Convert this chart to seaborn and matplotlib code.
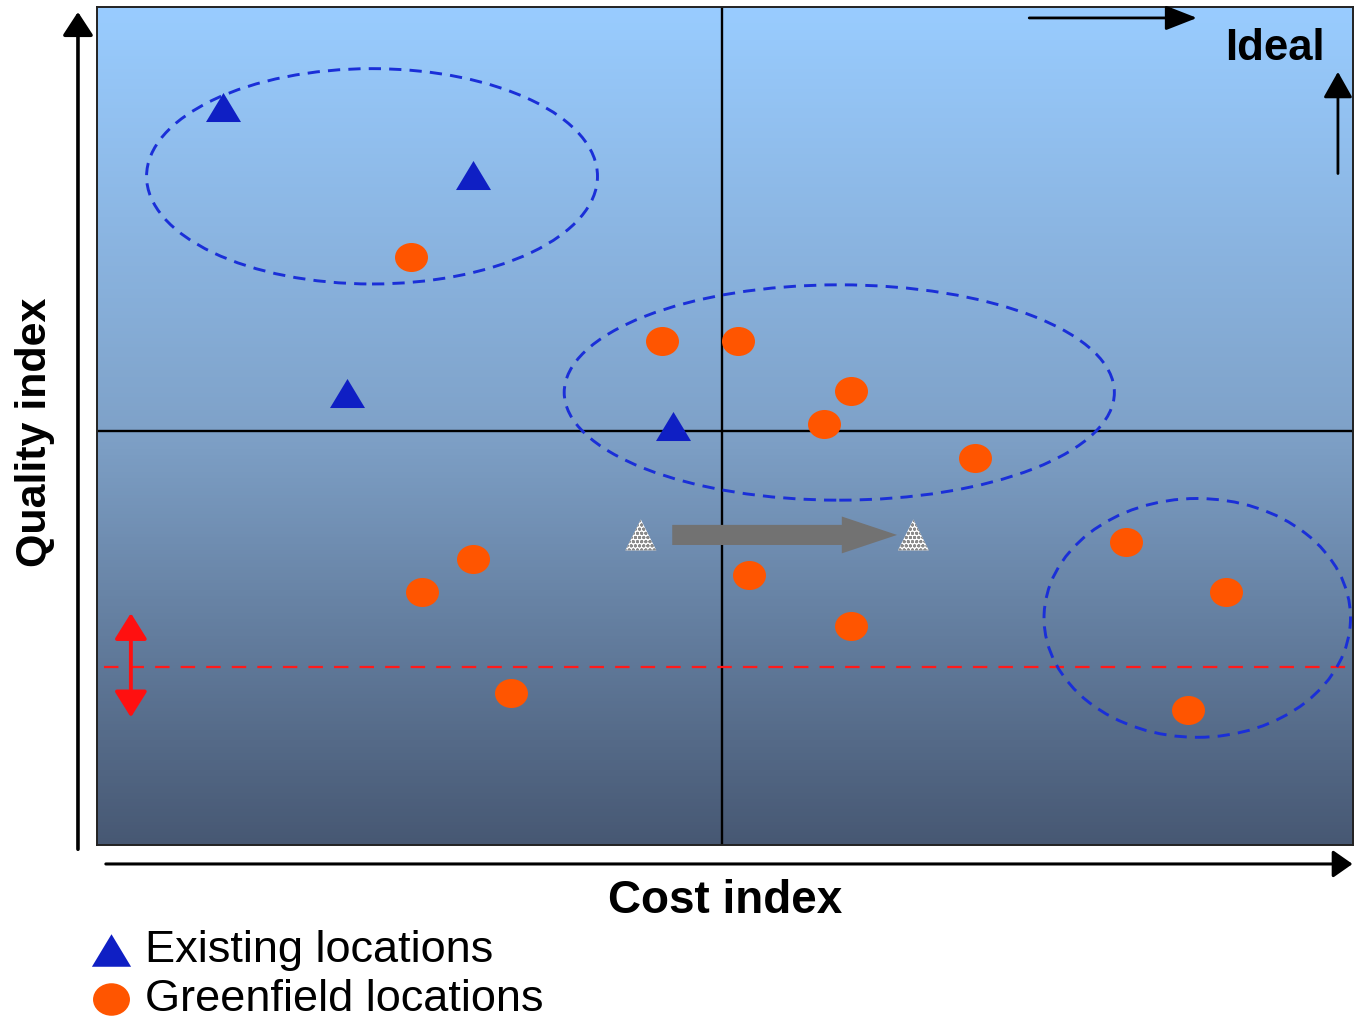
import numpy as np
import pandas as pd
import matplotlib
matplotlib.use("Agg")
import matplotlib.pyplot as plt
import seaborn as sns
from matplotlib.path import Path
from matplotlib.patches import Ellipse, FancyArrow, FancyArrowPatch
from matplotlib.colors import LinearSegmentedColormap

# ---- data -------------------------------------------------------------
existing_cost = [10.0, 29.9, 19.9, 45.9]
existing_quality = [88.1, 80.0, 53.9, 50.0]

greenfield_cost = [25.0, 45.0, 51.0, 60.0, 57.9, 69.9, 29.9, 25.9,
                   33.0, 51.9, 60.0, 81.9, 89.9, 86.9]
greenfield_quality = [70.2, 60.1, 60.1, 54.2, 50.2, 46.2, 34.1, 30.2,
                      18.1, 32.2, 26.1, 36.2, 30.2, 16.1]

# site moved from its current position to a cheaper one
relocation_cost = [43.3, 65.0]
relocation_quality = [37.0, 37.0]

series_labels = ["Existing locations", "Greenfield locations"]

# clusters: centre cost, centre quality, width, height
cluster_cost = [21.9, 59.1, 87.6]
cluster_quality = [79.8, 54.0, 27.1]
cluster_width = [35.9, 43.8, 24.4]
cluster_height = [25.7, 25.7, 28.5]

cost_split = 49.8
quality_split = 49.4
min_quality = 21.2

existing = pd.DataFrame({"cost": existing_cost, "quality": existing_quality})
greenfield = pd.DataFrame({"cost": greenfield_cost, "quality": greenfield_quality})
relocation = pd.DataFrame({"cost": relocation_cost, "quality": relocation_quality})

# ---- style --------------------------------------------------------------
sns.set_style("white")
plt.rcParams["font.family"] = ["Liberation Sans", "DejaVu Sans"]
plt.rcParams["text.color"] = "black"
plt.rcParams["hatch.linewidth"] = 1.0

fig = plt.figure(figsize=(13.56, 10.21), dpi=100)
ax = fig.add_axes([0.0715, 0.1724, 0.9263, 0.8207])
ax.set_xlim(0, 100)
ax.set_ylim(0, 100)

# vertical gradient background
grad_cmap = LinearSegmentedColormap.from_list(
    "bg", [(0.0, "#475873"), (0.5, "#7fa2c9"), (1.0, "#99ccff")])
gradient = np.linspace(0, 1, 256).reshape(-1, 1)
ax.imshow(gradient, cmap=grad_cmap, origin="lower", extent=[0, 100, 0, 100],
          aspect="auto", zorder=0)

for sp in ax.spines.values():
    sp.set_color("#222222")
    sp.set_linewidth(1.4)
ax.set_xticks([])
ax.set_yticks([])

# quadrant lines
ax.axvline(cost_split, color="black", lw=1.7, zorder=1)
ax.axhline(quality_split, color="black", lw=1.7, zorder=1)

# minimum quality threshold
ax.plot([0.6, 100], [min_quality, min_quality], color="#ff1a1a", lw=1.6,
        ls=(0, (6.5, 5)), zorder=1)
ax.add_patch(FancyArrowPatch((2.7, 28.0), (2.7, 14.9),
                             arrowstyle="<|-|>,head_length=0.8,head_width=0.5",
                             mutation_scale=20, color="#ff1010", lw=2.8,
                             zorder=2))

# clusters
for cx, cy, w, h in zip(cluster_cost, cluster_quality, cluster_width, cluster_height):
    ax.add_patch(Ellipse((cx, cy), w, h, fill=False, edgecolor="#1a2fd8",
                         lw=2.1, ls=(0, (4.2, 2.8)), zorder=2))

# relocation arrow
ax.add_patch(FancyArrow(45.8, 37.0, 63.7 - 45.8, 0, width=2.4, head_width=4.4,
                        head_length=4.4, length_includes_head=True,
                        color="#727272", lw=0, zorder=2))

# markers
tri_marker = Path([(0, 0.83), (-1, -0.83), (1, -0.83), (0, 0.83)],
                  [Path.MOVETO, Path.LINETO, Path.LINETO, Path.CLOSEPOLY])
circ = Path.unit_circle()
oval_marker = Path(circ.vertices * np.array([1.0, 0.88]), circ.codes)

sns.scatterplot(data=existing, x="cost", y="quality", ax=ax, marker=tri_marker,
                s=635, color="#0f1fc4", linewidth=0, label=series_labels[0],
                zorder=4, legend=False)
sns.scatterplot(data=greenfield, x="cost", y="quality", ax=ax, marker=oval_marker,
                s=564, color="#ff5500", linewidth=0, label=series_labels[1],
                zorder=4, legend=False)
sns.scatterplot(data=relocation, x="cost", y="quality", ax=ax, marker="^",
                s=497, facecolor="white", edgecolor="#8a8a8a", linewidth=0,
                hatch="oooo", zorder=4, legend=False)

ax.set_xlabel("")
ax.set_ylabel("")

# "Ideal" direction
ax.text(93.8, 95.0, "Ideal", fontsize=31.5, fontweight="bold", ha="center",
        va="center", zorder=5)
ax.add_patch(FancyArrowPatch((74.0, 98.7), (87.8, 98.7),
                             arrowstyle="-|>,head_length=0.97,head_width=0.38",
                             mutation_scale=20, color="black", lw=2,
                             clip_on=False, zorder=5))
ax.add_patch(FancyArrowPatch((98.8, 79.8), (98.8, 92.6),
                             arrowstyle="-|>,head_length=0.8,head_width=0.45",
                             mutation_scale=20, color="black", lw=2,
                             clip_on=False, zorder=5))

# axis arrows
fig.patches.append(FancyArrowPatch((0.0575, 0.1655), (0.0575, 0.991),
                                   transform=fig.transFigure,
                                   arrowstyle="-|>,head_length=0.72,head_width=0.47",
                                   mutation_scale=20, color="black", lw=2.6))
fig.patches.append(FancyArrowPatch((0.076, 0.1538), (0.9995, 0.1538),
                                   transform=fig.transFigure,
                                   arrowstyle="-|>,head_length=0.6,head_width=0.42",
                                   mutation_scale=20, color="black", lw=2.2))

fig.text(0.535, 0.118, "Cost index", fontsize=33, fontweight="bold",
         ha="center", va="center")
fig.text(0.0258, 0.577, "Quality index", fontsize=31, fontweight="bold",
         ha="center", va="center", rotation=90)

handles, labels = ax.get_legend_handles_labels()
fig.legend(handles[:2], labels[:2], loc="upper left",
           bbox_to_anchor=(0.065, 0.0895), bbox_transform=fig.transFigure,
           frameon=False, fontsize=32.5, borderpad=0, borderaxespad=0,
           handlelength=1.0, handletextpad=0.25, labelspacing=0.18,
           markerscale=1.12)

fig.savefig("out.png", dpi=100)
